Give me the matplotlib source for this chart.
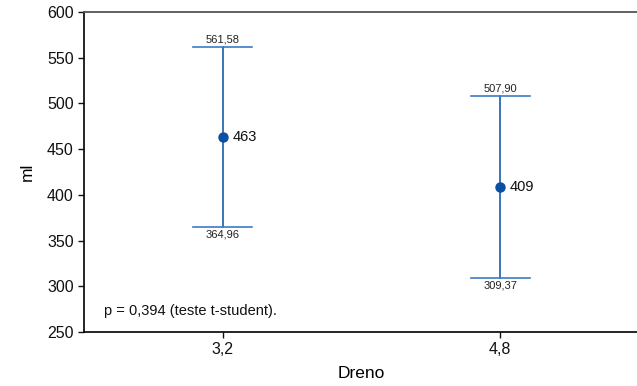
import numpy as np
import matplotlib
matplotlib.use("Agg")
import matplotlib.pyplot as plt

plt.rcParams["font.family"] = ["Liberation Sans", "DejaVu Sans"]

groups = ["3,2", "4,8"]
means = [463.27, 408.635]
mean_labels = ["463", "409"]
lower = [364.96, 309.37]
upper = [561.58, 507.90]
lower_labels = ["364,96", "309,37"]
upper_labels = ["561,58", "507,90"]
p_text = "p = 0,394 (teste t-student)."

fig = plt.figure(figsize=(6.37, 3.86), dpi=100)
ax = fig.add_axes([84 / 637, 1 - 332 / 386, 555 / 637, 320 / 386])

x = np.arange(len(groups))
line_col = "#1a5cab"
cap_col = "#3d7cc4"
for xi, m, lo, hi in zip(x, means, lower, upper):
    ax.plot([xi, xi], [lo, hi], color=line_col, linewidth=1.2, zorder=2)
    ax.plot([xi - 0.106, xi + 0.106], [hi, hi], color=cap_col, linewidth=1.2, zorder=2)
    ax.plot([xi - 0.106, xi + 0.106], [lo, lo], color=cap_col, linewidth=1.2, zorder=2)
ax.plot(x, means, "o", color="#0b4fa3", markersize=6.5, zorder=3)

for xi, m, ml, lo, ll, hi, hl in zip(x, means, mean_labels, lower, lower_labels, upper, upper_labels):
    ax.annotate(ml, (xi, m), xytext=(7, 0), textcoords="offset points",
                ha="left", va="center", fontsize=10.5, color="#111111")
    ax.annotate(hl, (xi, hi), xytext=(0, 2), textcoords="offset points",
                ha="center", va="bottom", fontsize=8, color="#222222")
    ax.annotate(ll, (xi, lo), xytext=(0, -2), textcoords="offset points",
                ha="center", va="top", fontsize=8, color="#222222")

ax.text(0.036, 0.045, p_text, transform=ax.transAxes, fontsize=10.5,
        ha="left", va="bottom", color="#111111")

ax.set_xlim(-0.5, 1.5)
ax.set_ylim(250, 600)
ax.set_yticks([250, 300, 350, 400, 450, 500, 550, 600])
ax.set_xticks(x)
ax.set_xticklabels(groups)
ax.tick_params(axis="both", labelsize=11.5, length=4, width=1, direction="out", colors="#111111")
ax.set_xlabel("Dreno", fontsize=12.5, labelpad=6)
ax.set_ylabel("ml", fontsize=12.5, labelpad=9)

ax.spines["right"].set_visible(False)
ax.spines["top"].set_color("#555555")
ax.spines["top"].set_linewidth(1.3)
ax.spines["left"].set_linewidth(1.2)
ax.spines["bottom"].set_linewidth(1.2)

fig.savefig("out.png", dpi=100)
